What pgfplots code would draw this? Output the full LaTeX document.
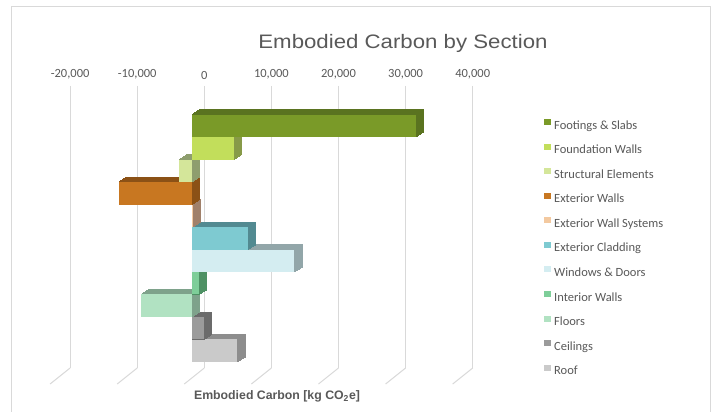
\documentclass[border=0pt]{standalone}
\usepackage{pgfplots}
\pgfplotsset{compat=1.18}
\usepackage{fontspec}
\setmainfont{Carlito}
\newfontfamily\titlefont[FakeStretch=1.14]{Liberation Sans}
\newfontfamily\labelfont{Liberation Sans}

\definecolor{textgray}{HTML}{595959}
\definecolor{gridgray}{HTML}{D9D9D9}
\definecolor{bordergray}{HTML}{D9D9D9}
\definecolor{ftF}{HTML}{7A9A28}\definecolor{ftS}{HTML}{5A7320}
\definecolor{fwF}{HTML}{C2DE5B}\definecolor{fwS}{HTML}{879A48}
\definecolor{strF}{HTML}{D4E69A}\definecolor{strS}{HTML}{8E9E6E}
\definecolor{ewF}{HTML}{C87721}\definecolor{ewS}{HTML}{8B5116}
\definecolor{ewsF}{HTML}{F3C9A0}\definecolor{ewsS}{HTML}{A0806A}
\definecolor{cladF}{HTML}{7ECAD1}\definecolor{cladS}{HTML}{528A91}
\definecolor{winF}{HTML}{D4EDF1}\definecolor{winS}{HTML}{92A6A9}
\definecolor{intF}{HTML}{7ECE99}\definecolor{intS}{HTML}{4E9164}
\definecolor{flF}{HTML}{B1E2C2}\definecolor{flS}{HTML}{7EA28B}
\definecolor{ceF}{HTML}{9B9B9B}\definecolor{ceS}{HTML}{6B6B6B}
\definecolor{rfF}{HTML}{CACACA}\definecolor{rfS}{HTML}{8D8D8D}

% #1 front colour, #2 side colour, #3 coordinates, #4 legend text
\newcommand{\depthbar}[4]{%
  \pgfplotsinvokeforeach{1,...,10}{%
    \addplot[forget plot, xbar, bar shift=0pt, bar width=1, fill=#2, draw=#2,
      line width=0.8pt, xshift=##1*0.76pt, yshift=##1*0.48pt] coordinates {#3};
  }%
  \addplot[xbar, bar shift=0pt, bar width=1, fill=#1, draw=none,
    legend image code/.code={\fill[fill=#1] (0pt,1.3pt) rectangle (6.5pt,7.3pt);}]
    coordinates {#3};
  \addlegendentry{#4}
}

\begin{document}
\begin{tikzpicture}[x=1pt,y=1pt]
\useasboundingbox (0,0) rectangle (712,412);
\fill[white] (0,0) rectangle (712,412);
\draw[bordergray, line width=1pt] (11,-5) -- (11,405) -- (710.5,405) -- (710.5,-5);
\node[anchor=base, font=\titlefont\fontsize{19.5}{22}\selectfont, text=textgray] at (403,363.7) {Embodied Carbon by Section};
\node[anchor=base, font=\labelfont\bfseries\fontsize{12.3}{14}\selectfont, text=textgray] at (277,12) {Embodied Carbon [kg CO\textsubscript{2}e]};
\begin{axis}[
  at={(57.5pt,44pt)}, anchor=south west,
  scale only axis, width=402.6pt, height=282pt,
  xmin=-20000, xmax=40000, ymin=-1.775, ymax=10.77, y dir=reverse,
  axis line style={draw=none}, major tick style={draw=none},
  ytick=\empty, scaled x ticks=false,
  xtick={-20000,-10000,0,10000,20000,30000,40000},
  xticklabels={{-20,000},{-10,000},{0},{10,000},{20,000},{30,000},{40,000}},
  xticklabel pos=upper,
  xticklabel style={font=\fontsize{12.5}{14}\selectfont, text=textgray, xshift=12.6pt, yshift=3pt},
  xmajorgrids, major grid style={draw=gridgray, line width=1pt, xshift=12.6pt},
  clip=false,
  reverse legend, legend cell align=left,
  legend style={at={(axis description cs:1.2091,0.883)}, anchor=north west,
    draw=none, fill=none, inner sep=0pt, row sep=12pt,
    font=\fontsize{12.5}{14}\selectfont, text=textgray,
    nodes={inner sep=0pt, text height=8pt, text depth=2.5pt},
    /tikz/every odd column/.append style={column sep=3.2pt}},
]
\pgfplotsinvokeforeach{-20000,-10000,0,10000,20000,30000,40000}{
  \draw[gridgray, line width=1pt] ([xshift=12.6pt]axis cs:#1,10.77) -- ++(-20pt,-16pt);
}
\depthbar{rfF}{rfS}{(6800,10)}{Roof}
\depthbar{ceF}{ceS}{(1800,9)}{Ceilings}
\depthbar{flF}{flS}{(-7600,8)}{Floors}
\depthbar{intF}{intS}{(1100,7)}{Interior Walls}
\depthbar{winF}{winS}{(15300,6)}{Windows \& Doors}
\depthbar{cladF}{cladS}{(8400,5)}{Exterior Cladding}
\depthbar{ewsF}{ewsS}{(150,4)}{Exterior Wall Systems}
\depthbar{ewF}{ewS}{(-10900,3)}{Exterior Walls}
\depthbar{strF}{strS}{(-1900,2)}{Structural Elements}
\depthbar{fwF}{fwS}{(6300,1)}{Foundation Walls}
\depthbar{ftF}{ftS}{(33400,0)}{Footings \& Slabs}
\end{axis}
\end{tikzpicture}
\end{document}
